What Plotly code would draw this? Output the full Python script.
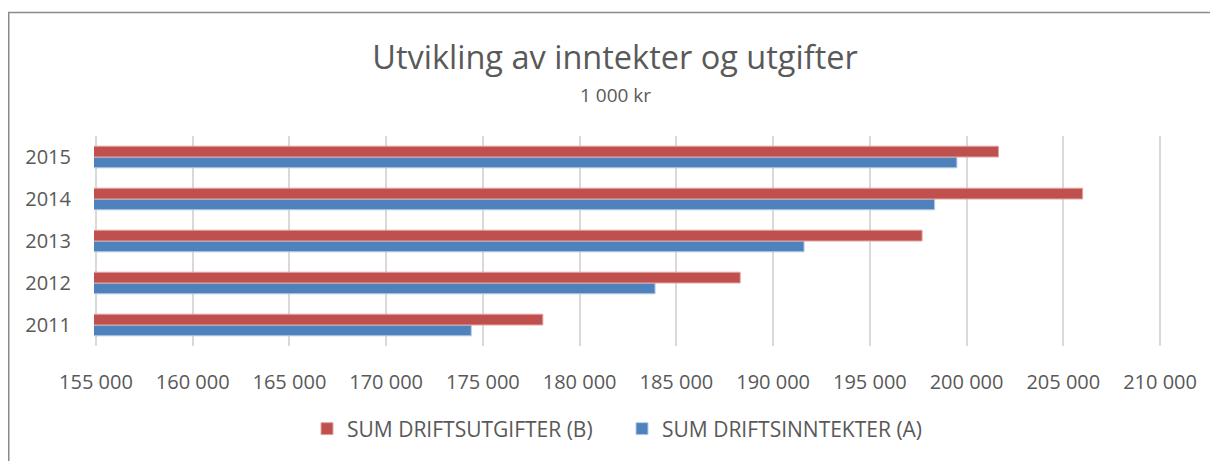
import plotly.graph_objects as go

years = ["2011", "2012", "2013", "2014", "2015"]
utgifter_b = [178100, 188300, 197700, 206000, 201650]
inntekter_a = [174400, 183900, 191600, 198350, 199500]
x_ticks = [155000, 160000, 165000, 170000, 175000, 180000, 185000, 190000, 195000, 200000, 205000, 210000]
x_ticklabels = [f"{v:,}".replace(",", " ") for v in x_ticks]

FONT = "Open Sans"
TXT = "#595959"

W, H = 1218, 461
L, R, T, B = 86, 64, 128, 123
pw, ph = W - L - R, H - T - B

def px_x(x):
    return (x - L) / pw

def px_y(y):
    return (H - B - y) / ph

fig = go.Figure()
fig.add_trace(go.Bar(
    y=years, x=inntekter_a, orientation="h", name="SUM DRIFTSINNTEKTER (A)",
    marker=dict(color="#4F81BD", line=dict(color="#b8cce4", width=1)),
))
fig.add_trace(go.Bar(
    y=years, x=utgifter_b, orientation="h", name="SUM DRIFTSUTGIFTER (B)",
    marker=dict(color="#C0504D", line=dict(color="#e0a8a6", width=1)),
))

fig.update_layout(
    width=W, height=H,
    margin=dict(l=L, r=R, t=T, b=B, autoexpand=False),
    paper_bgcolor="white", plot_bgcolor="white",
    barmode="group", bargap=0.485, bargroupgap=0,
    font=dict(family=FONT, color=TXT),
    title=dict(text="Utvikling av inntekter og utgifter", x=607 / W, xref="container",
               xanchor="center", y=1 - 50 / H, yref="container", yanchor="middle",
               font=dict(size=32.5, family=FONT, color=TXT)),
    showlegend=True,
    legend=dict(orientation="h", x=px_x(614), xanchor="center", y=px_y(421), yanchor="middle",
                traceorder="reversed", font=dict(size=21, color=TXT),
                itemwidth=30, entrywidth=270),
    xaxis=dict(range=[154900, 210100], tickvals=x_ticks, ticktext=x_ticklabels,
               showgrid=True, gridcolor="#d9d9d9", gridwidth=1.5, zeroline=False,
               showline=False, ticks="", tickfont=dict(size=20, color=TXT),
               ticklabelstandoff=22, automargin=False),
    yaxis=dict(type="category", categoryorder="array", categoryarray=years,
               showgrid=False, zeroline=False, showline=False, ticks="",
               tickfont=dict(size=20, color=TXT), ticklabelstandoff=22, automargin=False),
    annotations=[dict(text="1 000 kr", x=px_x(607), xref="paper", y=px_y(87), yref="paper",
                      xanchor="center", yanchor="middle", showarrow=False,
                      font=dict(size=19, color=TXT, family=FONT))],
    shapes=[dict(type="rect", xref="paper", yref="paper",
                 x0=px_x(0.75), x1=px_x(1240), y0=px_y(490), y1=px_y(4.5),
                 line=dict(color="#8a8a8a", width=1.5), fillcolor="rgba(0,0,0,0)", layer="below")],
)

fig.write_html("out.html")
